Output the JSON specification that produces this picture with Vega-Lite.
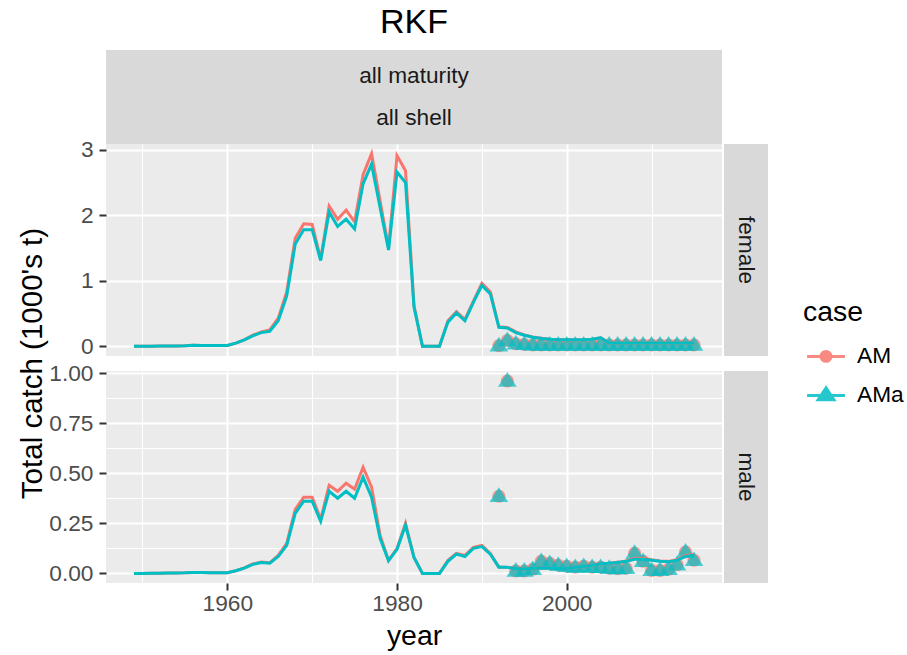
{
  "$schema": "https://vega.github.io/schema/vega-lite/v6.json",
  "background": "white",
  "padding": {"left": 16, "top": 6, "right": 5, "bottom": 5},
  "config": {
    "font": "Liberation Sans",
    "view": {"stroke": null},
    "axis": {"domain": false, "gridColor": "white", "tickColor": "#333333", "labelColor": "#4D4D4D", "labelFontSize": 22.7, "tickSize": 7, "tickWidth": 2, "labelPadding": 3, "titleFont": "Liberation Sans", "titleFontWeight": "normal", "titleFontSize": 28.4, "titleColor": "black"}
  },
  "datasets": {
    "pred": [
      {"sex":"female","year":1949,"AM":0,"AMa":0},{"sex":"female","year":1950,"AM":0,"AMa":0},{"sex":"female","year":1951,"AM":0.002,"AMa":0.002},{"sex":"female","year":1952,"AM":0.004,"AMa":0.004},{"sex":"female","year":1953,"AM":0.004,"AMa":0.004},{"sex":"female","year":1954,"AM":0.005,"AMa":0.005},{"sex":"female","year":1955,"AM":0.008,"AMa":0.008},{"sex":"female","year":1956,"AM":0.018,"AMa":0.018},{"sex":"female","year":1957,"AM":0.015,"AMa":0.015},{"sex":"female","year":1958,"AM":0.014,"AMa":0.014},{"sex":"female","year":1959,"AM":0.012,"AMa":0.012},{"sex":"female","year":1960,"AM":0.015,"AMa":0.015},{"sex":"female","year":1961,"AM":0.05,"AMa":0.05},{"sex":"female","year":1962,"AM":0.1,"AMa":0.1},{"sex":"female","year":1963,"AM":0.17,"AMa":0.16},{"sex":"female","year":1964,"AM":0.22,"AMa":0.21},{"sex":"female","year":1965,"AM":0.25,"AMa":0.23},{"sex":"female","year":1966,"AM":0.43,"AMa":0.39},{"sex":"female","year":1967,"AM":0.83,"AMa":0.77},{"sex":"female","year":1968,"AM":1.65,"AMa":1.56},{"sex":"female","year":1969,"AM":1.87,"AMa":1.78},{"sex":"female","year":1970,"AM":1.86,"AMa":1.78},{"sex":"female","year":1971,"AM":1.33,"AMa":1.31},{"sex":"female","year":1972,"AM":2.14,"AMa":2.05},{"sex":"female","year":1973,"AM":1.94,"AMa":1.83},{"sex":"female","year":1974,"AM":2.08,"AMa":1.94},{"sex":"female","year":1975,"AM":1.9,"AMa":1.79},{"sex":"female","year":1976,"AM":2.62,"AMa":2.48},{"sex":"female","year":1977,"AM":2.94,"AMa":2.78},{"sex":"female","year":1978,"AM":2.22,"AMa":2.12},{"sex":"female","year":1979,"AM":1.5,"AMa":1.47},{"sex":"female","year":1980,"AM":2.91,"AMa":2.66},{"sex":"female","year":1981,"AM":2.68,"AMa":2.5},{"sex":"female","year":1982,"AM":0.62,"AMa":0.6},{"sex":"female","year":1983,"AM":0,"AMa":0},{"sex":"female","year":1984,"AM":0,"AMa":0},{"sex":"female","year":1985,"AM":0,"AMa":0},{"sex":"female","year":1986,"AM":0.39,"AMa":0.37},{"sex":"female","year":1987,"AM":0.53,"AMa":0.51},{"sex":"female","year":1988,"AM":0.41,"AMa":0.39},{"sex":"female","year":1989,"AM":0.69,"AMa":0.67},{"sex":"female","year":1990,"AM":0.96,"AMa":0.93},{"sex":"female","year":1991,"AM":0.83,"AMa":0.8},{"sex":"female","year":1992,"AM":0.3,"AMa":0.29},{"sex":"female","year":1993,"AM":0.29,"AMa":0.28},{"sex":"female","year":1994,"AM":0.22,"AMa":0.21},{"sex":"female","year":1995,"AM":0.175,"AMa":0.17},{"sex":"female","year":1996,"AM":0.145,"AMa":0.14},{"sex":"female","year":1997,"AM":0.125,"AMa":0.12},{"sex":"female","year":1998,"AM":0.11,"AMa":0.11},{"sex":"female","year":1999,"AM":0.1,"AMa":0.1},{"sex":"female","year":2000,"AM":0.1,"AMa":0.1},{"sex":"female","year":2001,"AM":0.1,"AMa":0.1},{"sex":"female","year":2002,"AM":0.1,"AMa":0.1},{"sex":"female","year":2003,"AM":0.11,"AMa":0.11},{"sex":"female","year":2004,"AM":0.13,"AMa":0.13},{"sex":"female","year":2005,"AM":0.05,"AMa":0.05},{"sex":"female","year":2006,"AM":0.05,"AMa":0.05},{"sex":"female","year":2007,"AM":0.05,"AMa":0.05},{"sex":"female","year":2008,"AM":0.05,"AMa":0.05},{"sex":"female","year":2009,"AM":0.05,"AMa":0.05},{"sex":"female","year":2010,"AM":0.05,"AMa":0.05},{"sex":"female","year":2011,"AM":0.05,"AMa":0.05},{"sex":"female","year":2012,"AM":0.05,"AMa":0.05},{"sex":"female","year":2013,"AM":0.05,"AMa":0.05},{"sex":"female","year":2014,"AM":0.05,"AMa":0.05},{"sex":"female","year":2015,"AM":0.05,"AMa":0.05},
      {"sex":"male","year":1949,"AM":0,"AMa":0},{"sex":"male","year":1950,"AM":0,"AMa":0},{"sex":"male","year":1951,"AM":0.001,"AMa":0.001},{"sex":"male","year":1952,"AM":0.001,"AMa":0.001},{"sex":"male","year":1953,"AM":0.002,"AMa":0.002},{"sex":"male","year":1954,"AM":0.002,"AMa":0.002},{"sex":"male","year":1955,"AM":0.003,"AMa":0.003},{"sex":"male","year":1956,"AM":0.005,"AMa":0.005},{"sex":"male","year":1957,"AM":0.004,"AMa":0.004},{"sex":"male","year":1958,"AM":0.003,"AMa":0.003},{"sex":"male","year":1959,"AM":0.003,"AMa":0.003},{"sex":"male","year":1960,"AM":0.003,"AMa":0.003},{"sex":"male","year":1961,"AM":0.013,"AMa":0.013},{"sex":"male","year":1962,"AM":0.027,"AMa":0.026},{"sex":"male","year":1963,"AM":0.047,"AMa":0.045},{"sex":"male","year":1964,"AM":0.057,"AMa":0.054},{"sex":"male","year":1965,"AM":0.053,"AMa":0.051},{"sex":"male","year":1966,"AM":0.09,"AMa":0.084},{"sex":"male","year":1967,"AM":0.15,"AMa":0.14},{"sex":"male","year":1968,"AM":0.32,"AMa":0.3},{"sex":"male","year":1969,"AM":0.38,"AMa":0.36},{"sex":"male","year":1970,"AM":0.38,"AMa":0.36},{"sex":"male","year":1971,"AM":0.27,"AMa":0.26},{"sex":"male","year":1972,"AM":0.44,"AMa":0.41},{"sex":"male","year":1973,"AM":0.41,"AMa":0.375},{"sex":"male","year":1974,"AM":0.45,"AMa":0.41},{"sex":"male","year":1975,"AM":0.42,"AMa":0.375},{"sex":"male","year":1976,"AM":0.53,"AMa":0.48},{"sex":"male","year":1977,"AM":0.43,"AMa":0.38},{"sex":"male","year":1978,"AM":0.19,"AMa":0.175},{"sex":"male","year":1979,"AM":0.065,"AMa":0.063},{"sex":"male","year":1980,"AM":0.125,"AMa":0.12},{"sex":"male","year":1981,"AM":0.25,"AMa":0.24},{"sex":"male","year":1982,"AM":0.08,"AMa":0.08},{"sex":"male","year":1983,"AM":0,"AMa":0},{"sex":"male","year":1984,"AM":0,"AMa":0},{"sex":"male","year":1985,"AM":0,"AMa":0},{"sex":"male","year":1986,"AM":0.065,"AMa":0.06},{"sex":"male","year":1987,"AM":0.1,"AMa":0.096},{"sex":"male","year":1988,"AM":0.09,"AMa":0.084},{"sex":"male","year":1989,"AM":0.13,"AMa":0.125},{"sex":"male","year":1990,"AM":0.14,"AMa":0.134},{"sex":"male","year":1991,"AM":0.1,"AMa":0.096},{"sex":"male","year":1992,"AM":0.032,"AMa":0.031},{"sex":"male","year":1993,"AM":0.03,"AMa":0.03},{"sex":"male","year":1994,"AM":0.024,"AMa":0.024},{"sex":"male","year":1995,"AM":0.022,"AMa":0.022},{"sex":"male","year":1996,"AM":0.025,"AMa":0.025},{"sex":"male","year":1997,"AM":0.027,"AMa":0.027},{"sex":"male","year":1998,"AM":0.025,"AMa":0.025},{"sex":"male","year":1999,"AM":0.024,"AMa":0.024},{"sex":"male","year":2000,"AM":0.025,"AMa":0.025},{"sex":"male","year":2001,"AM":0.03,"AMa":0.03},{"sex":"male","year":2002,"AM":0.035,"AMa":0.035},{"sex":"male","year":2003,"AM":0.04,"AMa":0.04},{"sex":"male","year":2004,"AM":0.048,"AMa":0.048},{"sex":"male","year":2005,"AM":0.05,"AMa":0.05},{"sex":"male","year":2006,"AM":0.055,"AMa":0.054},{"sex":"male","year":2007,"AM":0.062,"AMa":0.06},{"sex":"male","year":2008,"AM":0.075,"AMa":0.07},{"sex":"male","year":2009,"AM":0.075,"AMa":0.07},{"sex":"male","year":2010,"AM":0.068,"AMa":0.065},{"sex":"male","year":2011,"AM":0.062,"AMa":0.06},{"sex":"male","year":2012,"AM":0.06,"AMa":0.058},{"sex":"male","year":2013,"AM":0.068,"AMa":0.065},{"sex":"male","year":2014,"AM":0.09,"AMa":0.085},{"sex":"male","year":2015,"AM":0.095,"AMa":0.09}
    ],
    "obs": [
      {"sex":"female","year":1992,"value":0.01},{"sex":"female","year":1993,"value":0.09},{"sex":"female","year":1994,"value":0.04},{"sex":"female","year":1995,"value":0.03},{"sex":"female","year":1996,"value":0.02},{"sex":"female","year":1997,"value":0.02},{"sex":"female","year":1998,"value":0.02},{"sex":"female","year":1999,"value":0.02},{"sex":"female","year":2000,"value":0.02},{"sex":"female","year":2001,"value":0.02},{"sex":"female","year":2002,"value":0.02},{"sex":"female","year":2003,"value":0.02},{"sex":"female","year":2004,"value":0.02},{"sex":"female","year":2005,"value":0.02},{"sex":"female","year":2006,"value":0.02},{"sex":"female","year":2007,"value":0.02},{"sex":"female","year":2008,"value":0.02},{"sex":"female","year":2009,"value":0.02},{"sex":"female","year":2010,"value":0.02},{"sex":"female","year":2011,"value":0.02},{"sex":"female","year":2012,"value":0.02},{"sex":"female","year":2013,"value":0.02},{"sex":"female","year":2014,"value":0.02},{"sex":"female","year":2015,"value":0.02},
      {"sex":"male","year":1992,"value":0.385},{"sex":"male","year":1993,"value":0.96},{"sex":"male","year":1994,"value":0.012},{"sex":"male","year":1995,"value":0.012},{"sex":"male","year":1996,"value":0.02},{"sex":"male","year":1997,"value":0.06},{"sex":"male","year":1998,"value":0.05},{"sex":"male","year":1999,"value":0.04},{"sex":"male","year":2000,"value":0.035},{"sex":"male","year":2001,"value":0.03},{"sex":"male","year":2002,"value":0.035},{"sex":"male","year":2003,"value":0.03},{"sex":"male","year":2004,"value":0.03},{"sex":"male","year":2005,"value":0.026},{"sex":"male","year":2006,"value":0.023},{"sex":"male","year":2007,"value":0.026},{"sex":"male","year":2008,"value":0.1},{"sex":"male","year":2009,"value":0.06},{"sex":"male","year":2010,"value":0.015},{"sex":"male","year":2011,"value":0.015},{"sex":"male","year":2012,"value":0.02},{"sex":"male","year":2013,"value":0.043},{"sex":"male","year":2014,"value":0.107},{"sex":"male","year":2015,"value":0.065}
    ]
  },
  "bounds": "flush",
  "align": "each",
  "columns": 2,
  "spacing": {"row": 0, "column": 2},
  "concat": [
    {
      "width": 616, "height": 94,
      "title": {"text": "RKF", "fontSize": 34, "fontWeight": "normal", "color": "black", "anchor": "middle", "baseline": "alphabetic", "offset": -17, "font": "Liberation Sans"},
      "view": {"fill": "#D9D9D9", "stroke": null},
      "data": {"values": [{"line": 1, "label": "all maturity"}, {"line": 2, "label": "all shell"}]},
      "mark": {"type": "text", "fontSize": 22.7, "color": "#1A1A1A", "baseline": "middle", "align": "center"},
      "encoding": {
        "y": {"field": "line", "type": "ordinal", "scale": {"type": "point", "padding": 0.6}, "axis": null},
        "text": {"field": "label", "type": "nominal"}
      }
    },
    {
      "width": 44, "height": 94,
      "data": {"values": []},
      "mark": {"type": "text"}
    },
    {
      "width": 616, "height": 212,
      "view": {"fill": "#EBEBEB", "stroke": null},
      "encoding": {
        "x": {"field": "year", "type": "quantitative", "scale": {"domain": [1945.7, 2018.3], "nice": false, "zero": false},
          "axis": {"values": [1950,1960,1970,1980,1990,2000,2010], "labels": false, "ticks": false, "title": null,
            "gridWidth": {"condition": {"test": "datum.value % 20 === 0", "value": 2}, "value": 1}}},
        "y": {"field": "value", "type": "quantitative", "scale": {"domain": [-0.147, 3.087], "nice": false, "zero": false},
          "axis": {"values": [0,0.5,1,1.5,2,2.5,3], "format": "d", "title": null, "labelPadding": 6,
            "labelExpr": "datum.value % 1 === 0 ? datum.label : ''",
            "tickOpacity": {"condition": {"test": "datum.value % 1 === 0", "value": 1}, "value": 0},
            "gridWidth": {"condition": {"test": "datum.value % 1 === 0", "value": 2}, "value": 1}}}
      },
      "layer": [
        {
          "data": {"name": "obs"},
          "transform": [{"filter": "datum.sex === 'female'"}],
          "mark": {"type": "point", "shape": "M-1,0A1,1 0 1,0 1,0A1,1 0 1,0 -1,0Z", "filled": true, "size": 169, "opacity": 0.7, "strokeWidth": 0},
          "encoding": {"color": {"datum": "AM", "type": "nominal", "scale": {"domain": ["AM", "AMa"], "range": ["#F8766D", "#00BFC4"]}}}
        },
        {
          "data": {"name": "obs"},
          "transform": [{"filter": "datum.sex === 'female'"}],
          "mark": {"type": "point", "shape": "M0,-0.96L1,0.61L-1,0.61Z", "filled": true, "size": 350, "opacity": 0.7, "strokeWidth": 0},
          "encoding": {"color": {"datum": "AMa", "type": "nominal"}}
        },
        {
          "data": {"name": "pred"},
          "transform": [{"filter": "datum.sex === 'female'"}, {"fold": ["AM", "AMa"], "as": ["case", "value"]}],
          "mark": {"type": "line", "strokeWidth": 3},
          "encoding": {
            "color": {"field": "case", "type": "nominal",
              "legend": {
                "title": "case", "orient": "none", "legendX": 697, "legendY": 249, "padding": 0,
                "titleFontSize": 28.4, "titleFontWeight": "normal", "titleColor": "black", "titleFont": "Liberation Sans", "titlePadding": 6,
                "labelFontSize": 22.7, "labelColor": "black", "labelOffset": 8, "labelFont": "Liberation Sans",
                "symbolSize": 1849, "rowPadding": 4,
                "encode": {
                  "symbols": {"update": {
                    "shape": {"signal": "datum.value === 'AM' ? 'M-0.88,0L0.88,0M-0.23,0A0.23,0.23 0 1,0 0.23,0A0.23,0.23 0 1,0 -0.23,0Z' : 'M-0.88,0L0.88,0M0,-0.35L0.365,0.2L-0.365,0.2Z'"},
                    "stroke": {"signal": "datum.value === 'AM' ? '#F8766D' : '#00BFC4'"},
                    "fill": {"signal": "datum.value === 'AM' ? '#F8766D' : '#00BFC4'"},
                    "strokeWidth": {"value": 3},
                    "opacity": {"value": 0.85}
                  }}
                }
              }
            },
            "detail": {"field": "case"}
          }
        }
      ]
    },
    {
      "width": 44, "height": 212,
      "view": {"fill": "#D9D9D9", "stroke": null},
      "data": {"values": [{"label": "female"}]},
      "mark": {"type": "text", "angle": 90, "fontSize": 22.7, "color": "#1A1A1A", "baseline": "middle", "align": "center"},
      "encoding": {"text": {"field": "label", "type": "nominal"}}
    },
    {
      "width": 616, "height": 15,
      "data": {"values": []},
      "mark": {"type": "text"}
    },
    {
      "width": 44, "height": 15,
      "data": {"values": []},
      "mark": {"type": "text"}
    },
    {
      "width": 616, "height": 212,
      "view": {"fill": "#EBEBEB", "stroke": null},
      "encoding": {
        "x": {"field": "year", "type": "quantitative", "scale": {"domain": [1945.7, 2018.3], "nice": false, "zero": false},
          "axis": {"values": [1950,1960,1970,1980,1990,2000,2010], "format": "d", "title": "year", "titleY": 61, "titleBaseline": "alphabetic", "labelPadding": 2,
            "labelExpr": "datum.value % 20 === 0 ? datum.label : ''",
            "tickOpacity": {"condition": {"test": "datum.value % 20 === 0", "value": 1}, "value": 0},
            "gridWidth": {"condition": {"test": "datum.value % 20 === 0", "value": 2}, "value": 1}}},
        "y": {"field": "value", "type": "quantitative", "scale": {"domain": [-0.048, 1.01], "nice": false, "zero": false},
          "axis": {"values": [0,0.125,0.25,0.375,0.5,0.625,0.75,0.875,1], "format": ".2f", "labelPadding": 6,
            "title": "Total catch (1000's t)", "titleX": -65, "titleY": -8, "titleAngle": -90, "titleBaseline": "alphabetic", "titleAlign": "center", "titleFontSize": 29.5,
            "labelExpr": "round(datum.value*4) === datum.value*4 ? datum.label : ''",
            "tickOpacity": {"condition": {"test": "round(datum.value*4) === datum.value*4", "value": 1}, "value": 0},
            "gridWidth": {"condition": {"test": "round(datum.value*4) === datum.value*4", "value": 2}, "value": 1}}}
      },
      "layer": [
        {
          "data": {"name": "obs"},
          "transform": [{"filter": "datum.sex === 'male'"}],
          "mark": {"type": "point", "shape": "M-1,0A1,1 0 1,0 1,0A1,1 0 1,0 -1,0Z", "filled": true, "size": 169, "opacity": 0.7, "strokeWidth": 0},
          "encoding": {"color": {"datum": "AM", "type": "nominal"}}
        },
        {
          "data": {"name": "obs"},
          "transform": [{"filter": "datum.sex === 'male'"}],
          "mark": {"type": "point", "shape": "M0,-0.96L1,0.61L-1,0.61Z", "filled": true, "size": 350, "opacity": 0.7, "strokeWidth": 0},
          "encoding": {"color": {"datum": "AMa", "type": "nominal"}}
        },
        {
          "data": {"name": "pred"},
          "transform": [{"filter": "datum.sex === 'male'"}, {"fold": ["AM", "AMa"], "as": ["case", "value"]}],
          "mark": {"type": "line", "strokeWidth": 3},
          "encoding": {"color": {"field": "case", "type": "nominal"}, "detail": {"field": "case"}}
        }
      ]
    },
    {
      "width": 44, "height": 212,
      "view": {"fill": "#D9D9D9", "stroke": null},
      "data": {"values": [{"label": "male"}]},
      "mark": {"type": "text", "angle": 90, "fontSize": 22.7, "color": "#1A1A1A", "baseline": "middle", "align": "center"},
      "encoding": {"text": {"field": "label", "type": "nominal"}}
    }
  ]
}
